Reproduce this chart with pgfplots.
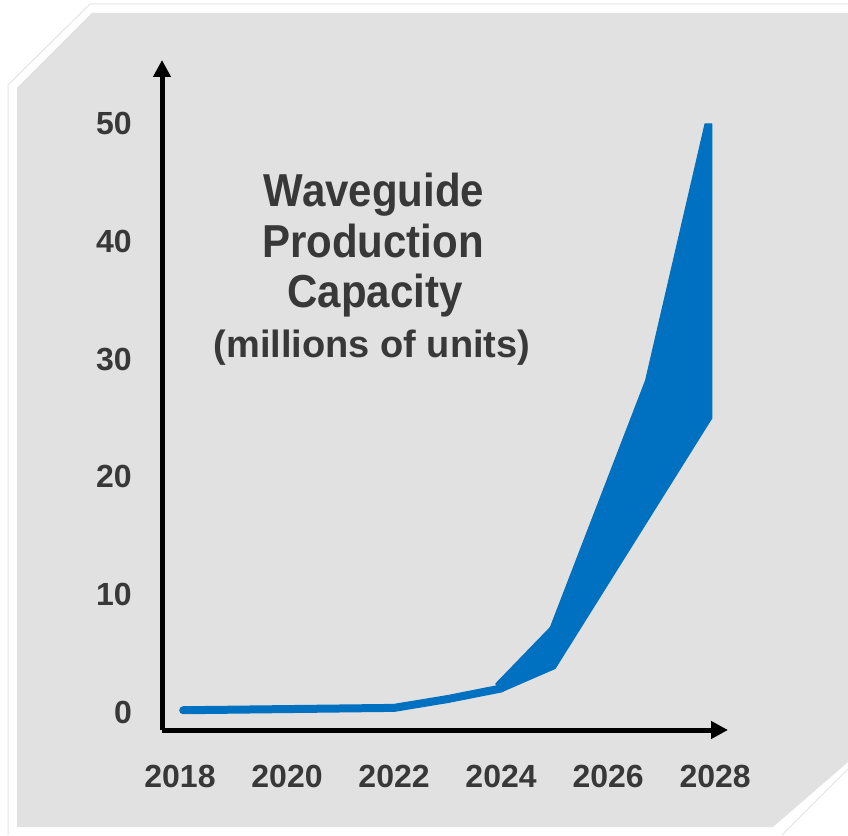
\documentclass[border=0pt]{standalone}
\usepackage{pgfplots}
\pgfplotsset{compat=1.18}
\usepackage{fontspec}
\setmainfont{Liberation Sans}
\usetikzlibrary{arrows.meta}
\definecolor{bgray}{HTML}{E1E1E1}
\definecolor{txt}{HTML}{383838}
\definecolor{wblue}{HTML}{0070C0}
\begin{document}
\begin{tikzpicture}[x=1pt,y=1pt]
\useasboundingbox (0,0) rectangle (848,835);
\fill[white] (0,0) rectangle (848,835);
\fill[bgray] (17,747) -- (92,822) -- (848,822) -- (848,73) -- (773,8) -- (17,8) -- cycle;
\draw[gray!20,line width=1pt] (8,0) -- (8,750) -- (90,831) -- (848,831);
\draw[gray!20,line width=1pt] (782,0) -- (848,66);
\begin{axis}[
  at={(162pt,105pt)}, anchor=south west,
  scale only axis, width=566pt, height=670pt,
  xmin=2017.664, xmax=2028.24, ymin=-1.53, ymax=55.44,
  axis lines=left,
  axis line style={line width=5pt, draw=black, -{Triangle[width=17pt,length=17pt]}},
  xtick={2018,2020,2022,2024,2026,2028},
  ytick={0,10,20,30,40,50},
  major tick length=0pt,
  /pgf/number format/1000 sep={},
  /pgf/number format/assume math mode=true,
  tick label style={font=\fontsize{32}{36}\selectfont\bfseries, text=txt, inner sep=0pt},
  xticklabel style={anchor=north, yshift=-35pt},
  yticklabel style={anchor=east, xshift=-30pt},
  clip=false,
]
\addplot[draw=wblue, line width=8pt, line cap=round, line join=round]
  coordinates {(2018.06,0.15) (2022.0,0.35) (2023.0,1.1) (2024.0,2.0)};
\addplot[fill=wblue, draw=wblue, line width=1pt, line join=round]
  coordinates {(2023.9,2.4) (2024.92,7.2) (2026.7,28.2) (2027.81,50) (2027.94,50)
               (2027.94,25.0) (2025.01,3.7) (2024.0,1.7)} -- cycle;
\end{axis}
\node[anchor=base, yscale=1.1, font=\fontsize{42}{45}\selectfont\bfseries, text=txt] at (374,835-207) {Waveguide};
\node[anchor=base, yscale=1.1, font=\fontsize{42}{45}\selectfont\bfseries, text=txt] at (373,835-258) {Production};
\node[anchor=base, yscale=1.1, font=\fontsize{42}{45}\selectfont\bfseries, text=txt] at (375,835-308) {Capacity};
\node[anchor=base, font=\fontsize{38}{42}\selectfont\bfseries, text=txt] at (372,835-358) {(millions of units)};
\end{tikzpicture}
\end{document}
